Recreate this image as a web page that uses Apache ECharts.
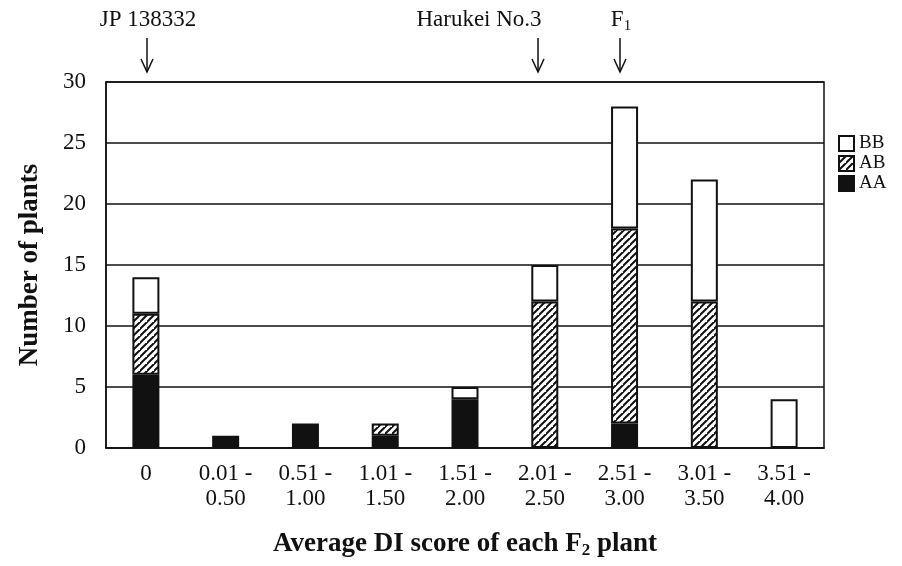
<!DOCTYPE html>
<html>
<head>
<meta charset="utf-8">
<script src="https://cdn.jsdelivr.net/npm/echarts@6/dist/echarts.min.js"></script>
<style>html,body{margin:0;padding:0;background:#fff;}#c{width:902px;height:566px;}</style>
</head>
<body>
<div id="c"></div>
<script>
const categories = ['0', '0.01 -\n0.50', '0.51 -\n1.00', '1.01 -\n1.50', '1.51 -\n2.00', '2.01 -\n2.50', '2.51 -\n3.00', '3.01 -\n3.50', '3.51 -\n4.00'];
const AA = [6, 1, 2, 1, 4, 0, 2, 0, 0];
const AB = [5, 0, 0, 1, 0, 12, 16, 12, 0];
const BB = [3, 0, 0, 0, 1, 3, 10, 10, 4];
const yTicks = [0, 5, 10, 15, 20, 25, 30];

const FONT = '"Liberation Serif", "Times New Roman", serif';

function hatch() {
  const s = 7;
  const c = document.createElement('canvas');
  c.width = s; c.height = s;
  const g = c.getContext('2d');
  g.fillStyle = '#fff';
  g.fillRect(0, 0, s, s);
  g.strokeStyle = '#111';
  g.lineWidth = 2;
  g.beginPath();
  g.moveTo(-1, s + 1); g.lineTo(s + 1, -1);
  g.moveTo(-1 - s, s + 1); g.lineTo(1, -1);
  g.moveTo(s - 1, 2 * s + 1); g.lineTo(2 * s + 1, s - 1);
  g.stroke();
  return c;
}
const hatchPattern = { image: hatch(), repeat: 'repeat' };

const nz = a => a.map(v => (v === 0 ? null : v));

const chart = echarts.init(document.getElementById('c'));

function arrow(x, yTop, yBot) {
  return [
    { type: 'line', shape: { x1: x, y1: yTop, x2: x, y2: yBot }, style: { stroke: '#111', lineWidth: 1.5 } },
    { type: 'polyline', shape: { points: [[x - 6, yBot - 13], [x, yBot], [x + 6, yBot - 13]] }, style: { stroke: '#111', lineWidth: 1.5, fill: null } }
  ];
}

const barStyleBase = { borderColor: '#111', borderWidth: 2 };

chart.setOption({
  animation: false,
  backgroundColor: '#fff',
  grid: { left: 106, right: 78, top: 82, bottom: 118, show: true, borderColor: '#111', borderWidth: 1.5, backgroundColor: 'transparent' },
  legend: {
    orient: 'vertical', left: 833, top: 129,
    data: ['BB', 'AB', 'AA'],
    icon: 'rect',
    itemWidth: 15, itemHeight: 15, itemGap: 1,
    textStyle: { fontFamily: FONT, fontSize: 19, color: '#111' }
  },
  xAxis: {
    type: 'category', data: categories,
    axisLine: { show: true, lineStyle: { color: '#111', width: 1.5 } },
    axisTick: { show: false },
    axisLabel: { fontFamily: FONT, fontSize: 23, color: '#111', margin: 13, lineHeight: 25, verticalAlign: 'top' },
    name: '{b|Average DI score of each F}{s|2}{b| plant}',
    nameLocation: 'middle', nameGap: 81,
    nameTextStyle: {
      rich: {
        b: { fontFamily: FONT, fontSize: 27, fontWeight: 'bold', color: '#111' },
        s: { fontFamily: FONT, fontSize: 17, fontWeight: 'bold', color: '#111', verticalAlign: 'bottom', padding: [13, 0, 0, 0] }
      }
    }
  },
  yAxis: {
    type: 'value', min: yTicks[0], max: yTicks[yTicks.length - 1], interval: 5,
    axisLine: { show: true, lineStyle: { color: '#111', width: 1.5 } },
    axisTick: { show: false },
    splitLine: { show: true, lineStyle: { color: '#111', width: 1.5 } },
    axisLabel: { fontFamily: FONT, fontSize: 23, color: '#111', margin: 20 },
    name: 'Number of plants', nameLocation: 'middle', nameGap: 62,
    nameTextStyle: { fontFamily: FONT, fontSize: 27, fontWeight: 'bold', color: '#111' }
  },
  series: [
    { name: 'AA', type: 'bar', stack: 's', data: nz(AA), barWidth: 27, itemStyle: Object.assign({ color: '#111' }, barStyleBase) },
    { name: 'AB', type: 'bar', stack: 's', data: nz(AB), barWidth: 27, itemStyle: Object.assign({ color: hatchPattern }, barStyleBase) },
    { name: 'BB', type: 'bar', stack: 's', data: nz(BB), barWidth: 27, itemStyle: Object.assign({ color: '#fff' }, barStyleBase) }
  ],
  graphic: [
    { type: 'text', x: 148, y: 20, style: { text: 'JP 138332', font: '23px ' + FONT, fill: '#111', align: 'center', verticalAlign: 'middle' } },
    { type: 'text', x: 479, y: 20, style: { text: 'Harukei No.3', font: '23px ' + FONT, fill: '#111', align: 'center', verticalAlign: 'middle' } },
    { type: 'text', x: 621, y: 20, style: { text: '{a|F}{s|1}', align: 'center', verticalAlign: 'middle', rich: { a: { font: '23px ' + FONT, fill: '#111' }, s: { font: '15px ' + FONT, fill: '#111', padding: [12, 0, 0, 0] } } } },
    ...arrow(147, 38, 72),
    ...arrow(538, 38, 72),
    ...arrow(620, 38, 72)
  ]
});
</script>
</body>
</html>
